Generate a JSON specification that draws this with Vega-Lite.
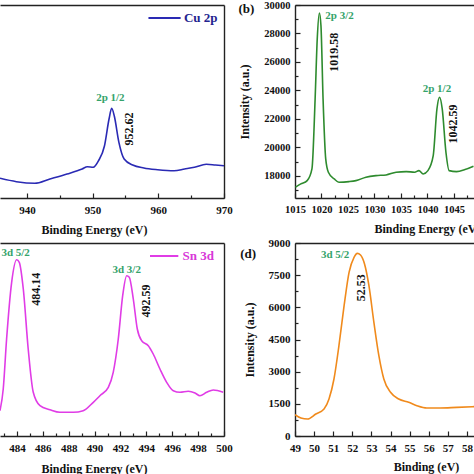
{
 "$schema": "https://vega.github.io/schema/vega-lite/v6.json",
 "padding": 0,
 "background": "white",
 "config": {
  "view": {"stroke": null},
  "axis": {"labelFont": "Liberation Serif", "labelFontWeight": "bold", "labelFontSize": 11, "labelColor": "#111", "labelOverlap": false, "labelFlush": false, "titleFont": "Liberation Serif", "titleFontWeight": "bold", "titleFontSize": 12, "titleColor": "#111", "domainColor": "#222", "domainWidth": 1.4, "tickColor": "#222", "tickWidth": 1.2, "grid": false},
  "text": {"font": "Liberation Serif", "fontWeight": "bold"}
 },
 "columns": 2,
 "spacing": {"row": 45, "column": 71},
 "bounds": "flush",
 "concat": [
    {
     "width": 224, "height": 193,
     "layer": [
      {
       "data": {"values": [
        {"x": 935.9, "y": 19.7}, {"x": 938.4, "y": 16.3}, {"x": 941.2, "y": 14.7}, {"x": 943.5, "y": 19}, {"x": 946.1, "y": 24}, {"x": 948.4, "y": 29}, {"x": 949.2, "y": 31.3}, {"x": 950.1, "y": 30.7}, {"x": 950.9, "y": 37.3}, {"x": 951.8, "y": 52}, {"x": 952.5, "y": 79}, {"x": 952.9, "y": 89.7}, {"x": 953.3, "y": 82}, {"x": 954.0, "y": 55.7}, {"x": 954.8, "y": 39}, {"x": 956.1, "y": 33}, {"x": 957.8, "y": 30}, {"x": 959.9, "y": 28.3}, {"x": 962.4, "y": 27.3}, {"x": 964.0, "y": 29}, {"x": 965.5, "y": 30.7}, {"x": 967.3, "y": 33.7}, {"x": 968.7, "y": 33}, {"x": 970, "y": 32.3}
       ]},
       "mark": {"type": "line", "color": "#2a2ab4", "strokeWidth": 1.6, "clip": true, "interpolate": "monotone"},
       "encoding": {
        "x": {"field": "x", "type": "quantitative", "scale": {"domain": [935.9, 970], "nice": false, "zero": false},
              "axis": {"orient": "bottom", "values": [940, 945, 950, 955, 960, 965, 970], "labelExpr": "datum.value % 10 === 0 ? datum.label : ''", "tickSize": {"condition": {"test": "datum.value % 10 === 0", "value": -5}, "value": -3}, "labelPadding": 11, "title": "Binding Energy (eV)", "titlePadding": 7, "titleX": 94}},
        "y": {"field": "y", "type": "quantitative", "scale": {"domain": [0, 193], "nice": false, "zero": false}, "axis": null}
       }
      },
      {
       "data": {"values": [{"x": 952.7, "y": 100, "t": "2p 1/2"}]},
       "mark": {"type": "text", "color": "#35a36b", "fontSize": 11},
       "encoding": {
        "x": {"field": "x", "type": "quantitative", "scale": {"domain": [935.9, 970], "nice": false, "zero": false}, "axis": {"orient": "top", "labels": false, "ticks": false, "title": null}},
        "y": {"field": "y", "type": "quantitative", "scale": {"domain": [0, 193], "nice": false, "zero": false}, "axis": {"orient": "right", "labels": false, "ticks": false, "title": null}},
        "text": {"field": "t"}
       }
      },
      {
       "data": {"values": [{"x": 955.5, "y": 69, "t": "952.62"}]},
       "mark": {"type": "text", "color": "#111", "fontSize": 12, "angle": 270},
       "encoding": {
        "x": {"field": "x", "type": "quantitative", "axis": null},
        "y": {"field": "y", "type": "quantitative", "axis": null},
        "text": {"field": "t"}
       }
      },
      {
       "data": {"values": [{"x": 958.5, "x2": 963.4, "y": 180}]},
       "mark": {"type": "rule", "color": "#2a2ab4", "strokeWidth": 2},
       "encoding": {
        "x": {"field": "x", "type": "quantitative", "axis": null},
        "x2": {"field": "x2"},
        "y": {"field": "y", "type": "quantitative", "axis": null}
       }
      },
      {
       "data": {"values": [{"x": 963.9, "y": 180, "t": "Cu 2p"}]},
       "mark": {"type": "text", "color": "#24248f", "fontSize": 13, "align": "left"},
       "encoding": {
        "x": {"field": "x", "type": "quantitative", "axis": null},
        "y": {"field": "y", "type": "quantitative", "axis": null},
        "text": {"field": "t"}
       }
      }
     ],
     "resolve": {"axis": {"x": "independent", "y": "independent"}}
    },
    {
     "width": 179, "height": 193,
     "layer": [
      {
       "data": {"values": [
        {"x": 1015.1, "y": 17207}, {"x": 1016.1, "y": 17439}, {"x": 1017.3, "y": 17670}, {"x": 1018.2, "y": 18491}, {"x": 1018.8, "y": 23404}, {"x": 1019.2, "y": 27614}, {"x": 1019.6, "y": 29439}, {"x": 1019.9, "y": 28550}, {"x": 1020.3, "y": 23404}, {"x": 1020.8, "y": 19193}, {"x": 1021.3, "y": 18260}, {"x": 1022.4, "y": 17790}, {"x": 1023.3, "y": 17558}, {"x": 1025.2, "y": 17600}, {"x": 1026.5, "y": 17670}, {"x": 1028.4, "y": 17909}, {"x": 1030.3, "y": 18021}, {"x": 1032.2, "y": 18070}, {"x": 1034.1, "y": 18259}, {"x": 1036.0, "y": 18303}, {"x": 1037.6, "y": 18260}, {"x": 1038.4, "y": 18373}, {"x": 1039.2, "y": 18140}, {"x": 1040.1, "y": 18373}, {"x": 1041.1, "y": 19425}, {"x": 1041.8, "y": 22700}, {"x": 1042.3, "y": 23520}, {"x": 1042.8, "y": 22700}, {"x": 1043.5, "y": 19663}, {"x": 1044.1, "y": 18373}, {"x": 1045.5, "y": 18303}, {"x": 1047.1, "y": 18444}, {"x": 1048.7, "y": 18680}
       ]},
       "mark": {"type": "line", "color": "#2e8b2e", "strokeWidth": 1.6, "clip": true, "interpolate": "monotone"},
       "encoding": {
        "x": {"field": "x", "type": "quantitative", "scale": {"domain": [1015, 1048.8], "nice": false, "zero": false},
              "axis": {"orient": "bottom", "values": [1015, 1017.5, 1020, 1022.5, 1025, 1027.5, 1030, 1032.5, 1035, 1037.5, 1040, 1042.5, 1045, 1047.5], "format": "d", "labelExpr": "datum.value % 5 === 0 ? datum.label : ''", "tickSize": {"condition": {"test": "datum.value % 5 === 0", "value": -5}, "value": -3}, "labelPadding": 11, "labelFontSize": 10.5, "title": "Binding Energy (eV)", "titlePadding": 7, "titleX": 132}},
        "y": {"field": "y", "type": "quantitative", "scale": {"domain": [16450, 30000], "nice": false, "zero": false},
              "axis": {"orient": "left", "values": [17000, 18000, 19000, 20000, 21000, 22000, 23000, 24000, 25000, 26000, 27000, 28000, 29000, 30000], "format": "d", "labelExpr": "datum.value % 2000 === 0 ? datum.label : ''", "tickSize": {"condition": {"test": "datum.value % 2000 === 0", "value": -5}, "value": -3}, "labelPadding": 10, "labelFontSize": 10.5, "title": "Intensity (a.u.)", "titlePadding": 12}}
       }
      },
      {
       "data": {"values": [{"x": 1023.4, "y": 29228, "t": "2p 3/2"}, {"x": 1041.8, "y": 24105, "t": "2p 1/2"}]},
       "mark": {"type": "text", "color": "#35a36b", "fontSize": 11},
       "encoding": {
        "x": {"field": "x", "type": "quantitative", "scale": {"domain": [1015, 1048.8], "nice": false, "zero": false}, "axis": {"orient": "top", "labels": false, "ticks": false, "title": null}},
        "y": {"field": "y", "type": "quantitative", "scale": {"domain": [16450, 30000], "nice": false, "zero": false}, "axis": null},
        "text": {"field": "t"}
       }
      },
      {
       "data": {"values": [{"x": 1022.3, "y": 26680, "t": "1019.58"}, {"x": 1044.8, "y": 21650, "t": "1042.59"}]},
       "mark": {"type": "text", "color": "#111", "fontSize": 12, "angle": 270},
       "encoding": {
        "x": {"field": "x", "type": "quantitative", "axis": null},
        "y": {"field": "y", "type": "quantitative", "axis": null},
        "text": {"field": "t"}
       }
      },
      {
       "data": {"values": [{"x": 1005.83, "y": 29700, "t": "(b)"}]},
       "mark": {"type": "text", "color": "#111", "fontSize": 13},
       "encoding": {
        "x": {"field": "x", "type": "quantitative", "axis": null},
        "y": {"field": "y", "type": "quantitative", "axis": null},
        "text": {"field": "t"}
       }
      }
     ],
     "resolve": {"axis": {"x": "independent", "y": "independent"}}
    },
    {
     "width": 224, "height": 193,
     "layer": [
      {
       "data": {"values": [
        {"x": 482.69, "y": 25.3}, {"x": 482.94, "y": 47}, {"x": 483.2, "y": 97}, {"x": 483.59, "y": 153.7}, {"x": 483.98, "y": 176.3}, {"x": 484.18, "y": 173.7}, {"x": 484.49, "y": 147}, {"x": 484.87, "y": 87}, {"x": 485.26, "y": 43.7}, {"x": 485.78, "y": 30.3}, {"x": 486.55, "y": 26.3}, {"x": 487.32, "y": 23.7}, {"x": 488.35, "y": 23.7}, {"x": 489.12, "y": 25.3}, {"x": 489.9, "y": 33.7}, {"x": 490.41, "y": 40.3}, {"x": 491.06, "y": 48.7}, {"x": 491.44, "y": 63.7}, {"x": 491.83, "y": 97}, {"x": 492.17, "y": 140.3}, {"x": 492.48, "y": 160.3}, {"x": 492.68, "y": 158.7}, {"x": 492.99, "y": 137}, {"x": 493.3, "y": 107}, {"x": 493.64, "y": 95.3}, {"x": 494.15, "y": 90.3}, {"x": 494.53, "y": 82}, {"x": 495.05, "y": 67}, {"x": 495.57, "y": 53.7}, {"x": 496.08, "y": 45.3}, {"x": 496.6, "y": 43.7}, {"x": 497.24, "y": 44.7}, {"x": 497.76, "y": 43}, {"x": 498.14, "y": 40.3}, {"x": 498.66, "y": 43.7}, {"x": 499.17, "y": 46}, {"x": 499.94, "y": 43.7}
       ]},
       "mark": {"type": "line", "color": "#e03ce6", "strokeWidth": 1.6, "clip": true, "interpolate": "monotone"},
       "encoding": {
        "x": {"field": "x", "type": "quantitative", "scale": {"domain": [482.69, 500], "nice": false, "zero": false},
              "axis": {"orient": "bottom", "values": [483, 484, 485, 486, 487, 488, 489, 490, 491, 492, 493, 494, 495, 496, 497, 498, 499, 500], "labelExpr": "datum.value % 2 === 0 ? datum.label : ''", "tickSize": {"condition": {"test": "datum.value % 2 === 0", "value": -5}, "value": -3}, "labelPadding": 11, "title": "Binding Energy (eV)", "titlePadding": 8, "titleX": 94}},
        "y": {"field": "y", "type": "quantitative", "scale": {"domain": [0, 193], "nice": false, "zero": false}, "axis": null}
       }
      },
      {
       "data": {"values": [{"x": 492.48, "y": 166, "t": "3d 3/2"}]},
       "mark": {"type": "text", "color": "#35a36b", "fontSize": 11},
       "encoding": {
        "x": {"field": "x", "type": "quantitative", "scale": {"domain": [482.69, 500], "nice": false, "zero": false}, "axis": {"orient": "top", "labels": false, "ticks": false, "title": null}},
        "y": {"field": "y", "type": "quantitative", "scale": {"domain": [0, 193], "nice": false, "zero": false}, "axis": {"orient": "right", "labels": false, "ticks": false, "title": null}},
        "text": {"field": "t"}
       }
      },
      {
       "data": {"values": [{"x": 482.8, "y": 183.3, "t": "3d 5/2"}]},
       "mark": {"type": "text", "color": "#35a36b", "fontSize": 11, "align": "left"},
       "encoding": {
        "x": {"field": "x", "type": "quantitative", "axis": null},
        "y": {"field": "y", "type": "quantitative", "axis": null},
        "text": {"field": "t"}
       }
      },
      {
       "data": {"values": [{"x": 485.47, "y": 146.7, "t": "484.14"}, {"x": 493.97, "y": 135, "t": "492.59"}]},
       "mark": {"type": "text", "color": "#111", "fontSize": 12, "angle": 270},
       "encoding": {
        "x": {"field": "x", "type": "quantitative", "axis": null},
        "y": {"field": "y", "type": "quantitative", "axis": null},
        "text": {"field": "t"}
       }
      },
      {
       "data": {"values": [{"x": 494.28, "x2": 496.47, "y": 180}]},
       "mark": {"type": "rule", "color": "#e03ce6", "strokeWidth": 2},
       "encoding": {
        "x": {"field": "x", "type": "quantitative", "axis": null},
        "x2": {"field": "x2"},
        "y": {"field": "y", "type": "quantitative", "axis": null}
       }
      },
      {
       "data": {"values": [{"x": 496.8, "y": 180, "t": "Sn 3d"}]},
       "mark": {"type": "text", "color": "#d838d8", "fontSize": 13, "align": "left"},
       "encoding": {
        "x": {"field": "x", "type": "quantitative", "axis": null},
        "y": {"field": "y", "type": "quantitative", "axis": null},
        "text": {"field": "t"}
       }
      }
     ],
     "resolve": {"axis": {"x": "independent", "y": "independent"}}
    },
    {
     "width": 179, "height": 193,
     "layer": [
      {
       "data": {"values": [
        {"x": 49.0, "y": 994}, {"x": 49.31, "y": 839}, {"x": 49.66, "y": 793}, {"x": 50.09, "y": 1026}, {"x": 50.52, "y": 1259}, {"x": 50.78, "y": 1725}, {"x": 51.04, "y": 2658}, {"x": 51.30, "y": 4211}, {"x": 51.57, "y": 6076}, {"x": 51.83, "y": 7632}, {"x": 52.09, "y": 8332}, {"x": 52.26, "y": 8518}, {"x": 52.43, "y": 8440}, {"x": 52.64, "y": 8021}, {"x": 52.87, "y": 7009}, {"x": 53.13, "y": 5300}, {"x": 53.39, "y": 3745}, {"x": 53.65, "y": 2658}, {"x": 54.0, "y": 2037}, {"x": 54.43, "y": 1725}, {"x": 54.95, "y": 1570}, {"x": 55.38, "y": 1413}, {"x": 55.9, "y": 1306}, {"x": 56.6, "y": 1306}, {"x": 57.47, "y": 1337}, {"x": 58.37, "y": 1368}
       ]},
       "mark": {"type": "line", "color": "#f08a1c", "strokeWidth": 1.6, "clip": true, "interpolate": "monotone"},
       "encoding": {
        "x": {"field": "x", "type": "quantitative", "scale": {"domain": [49, 58.37], "nice": false, "zero": false},
              "axis": {"orient": "bottom", "values": [49, 49.5, 50, 50.5, 51, 51.5, 52, 52.5, 53, 53.5, 54, 54.5, 55, 55.5, 56, 56.5, 57, 57.5, 58], "format": "d", "labelExpr": "datum.value % 1 === 0 ? datum.label : ''", "tickSize": {"condition": {"test": "datum.value % 1 === 0", "value": -5}, "value": -3}, "labelPadding": 11, "title": "Binding (eV)", "titlePadding": 8, "titleX": 131}},
        "y": {"field": "y", "type": "quantitative", "scale": {"domain": [0, 9000], "nice": false, "zero": false},
              "axis": {"orient": "left", "values": [0, 750, 1500, 2250, 3000, 3750, 4500, 5250, 6000, 6750, 7500, 8250, 9000], "format": "d", "labelExpr": "datum.value % 1500 === 0 ? datum.label : ''", "tickSize": {"condition": {"test": "datum.value % 1500 === 0", "value": -5}, "value": -3}, "labelPadding": 10, "title": "Intensity (a.u.)", "titlePadding": 12}}
       }
      },
      {
       "data": {"values": [{"x": 51.1, "y": 8440, "t": "3d 5/2"}]},
       "mark": {"type": "text", "color": "#35a36b", "fontSize": 11},
       "encoding": {
        "x": {"field": "x", "type": "quantitative", "scale": {"domain": [49, 58.37], "nice": false, "zero": false}, "axis": {"orient": "top", "labels": false, "ticks": false, "title": null}},
        "y": {"field": "y", "type": "quantitative", "scale": {"domain": [0, 9000], "nice": false, "zero": false}, "axis": null},
        "text": {"field": "t"}
       }
      },
      {
       "data": {"values": [{"x": 52.43, "y": 6916, "t": "52.53"}]},
       "mark": {"type": "text", "color": "#111", "fontSize": 12, "angle": 270},
       "encoding": {
        "x": {"field": "x", "type": "quantitative", "axis": null},
        "y": {"field": "y", "type": "quantitative", "axis": null},
        "text": {"field": "t"}
       }
      },
      {
       "data": {"values": [{"x": 46.55, "y": 8500, "t": "(d)"}]},
       "mark": {"type": "text", "color": "#111", "fontSize": 13},
       "encoding": {
        "x": {"field": "x", "type": "quantitative", "axis": null},
        "y": {"field": "y", "type": "quantitative", "axis": null},
        "text": {"field": "t"}
       }
      }
     ],
     "resolve": {"axis": {"x": "independent", "y": "independent"}}
    }
 ]
}
